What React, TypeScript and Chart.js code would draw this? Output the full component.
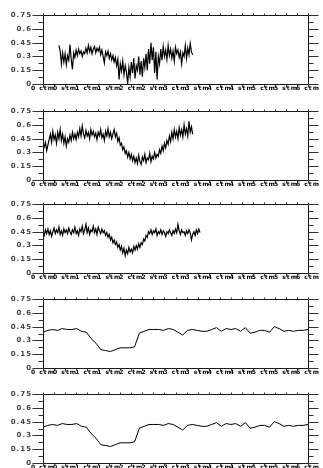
import React, { useEffect, useRef } from 'react';
import { Chart, registerables } from 'chart.js';

Chart.register(...registerables);

// ---- tick labels ----
const X_LABELS = ['0 ctm', '0 stm', '1 ctm', '1 stm', '2 ctm', '2 stm', '3 ctm', '3 stm', '4 ctm', '4 stm', '5 ctm', '5 stm', '6 ctm'];
const Y_TICKS = [0, 0.15, 0.3, 0.45, 0.6, 0.75];
const Y_LABELS = ['0', '0.15', '0.3', '0.45', '0.6', '0.75'];
const Y_MINOR = [0.075, 0.225, 0.375, 0.525, 0.675];

// ---- noisy series (x in steps of 1 on a 0..216 axis) ----
const NOISY_SPAN = 216;
const START_1 = 13;
const SERIES_1 = [
  0.42, 0.36, 0.22, 0.34, 0.24, 0.33, 0.21, 0.31, 0.26, 0.43, 0.27, 0.16, 0.34,
  0.29, 0.37, 0.31, 0.38, 0.33, 0.36, 0.30, 0.35, 0.33, 0.39, 0.34, 0.42, 0.35, 0.40, 0.33, 0.38, 0.41, 0.34, 0.39, 0.36,
  0.40, 0.32, 0.37, 0.30, 0.23, 0.35, 0.31, 0.36, 0.28, 0.33, 0.26, 0.31, 0.24, 0.29, 0.20,
  0.27, 0.05, 0.22, 0.14, 0.25, 0.10, 0.20, 0.13, 0.00, 0.18, 0.08, 0.24, 0.12, 0.28, 0.06, 0.20, 0.15, 0.30,
  0.10, 0.25, 0.08, 0.28, 0.18, 0.33, 0.15, 0.38, 0.22, 0.45, 0.26, 0.40, 0.12, 0.35, 0.05, 0.30, 0.22, 0.38, 0.26, 0.41,
  0.30, 0.37, 0.27, 0.42, 0.31, 0.38, 0.28, 0.36, 0.25, 0.40, 0.33, 0.37, 0.29, 0.35, 0.22, 0.34, 0.30, 0.42, 0.28, 0.39, 0.32, 0.44, 0.35, 0.32,
];

const START_2 = 0;
const SERIES_2 = [
  0.40, 0.36, 0.41, 0.32, 0.38, 0.44,
  0.50, 0.41, 0.53, 0.44, 0.49, 0.40, 0.52, 0.45, 0.55,
  0.43, 0.50, 0.40, 0.47, 0.37, 0.45, 0.41, 0.49, 0.43, 0.52, 0.45, 0.50, 0.44,
  0.52, 0.47, 0.56, 0.48, 0.59, 0.50, 0.46, 0.54, 0.48, 0.52, 0.45, 0.55, 0.49, 0.53, 0.47, 0.51, 0.44, 0.52, 0.48, 0.55, 0.46, 0.50, 0.43, 0.53, 0.48, 0.56, 0.47, 0.52, 0.45, 0.50,
  0.55, 0.47, 0.51, 0.42, 0.46, 0.38, 0.40, 0.33, 0.36, 0.29, 0.32,
  0.25, 0.30, 0.23, 0.28, 0.21,
  0.26, 0.19, 0.24, 0.18, 0.27, 0.20, 0.17, 0.25, 0.21, 0.28, 0.19, 0.24, 0.22, 0.29, 0.20, 0.26, 0.23, 0.30, 0.24, 0.28,
  0.26, 0.33, 0.29, 0.37, 0.32, 0.40, 0.35, 0.43,
  0.39, 0.48, 0.42, 0.52, 0.45, 0.55, 0.47, 0.53, 0.45, 0.57, 0.49,
  0.55, 0.47, 0.60, 0.50, 0.56, 0.48, 0.64, 0.52, 0.58, 0.50,
];

const START_3 = 0;
const SERIES_3 = [
  0.45, 0.41, 0.47, 0.43, 0.48, 0.42, 0.46, 0.40, 0.45, 0.49, 0.43, 0.47, 0.44, 0.50, 0.42, 0.46, 0.41, 0.48, 0.44, 0.47,
  0.43, 0.49, 0.45, 0.42, 0.47, 0.44, 0.50, 0.43, 0.46, 0.41, 0.48, 0.45, 0.51, 0.43, 0.47, 0.53, 0.44, 0.49, 0.42, 0.47,
  0.45, 0.51, 0.44, 0.48, 0.42, 0.50, 0.46, 0.43, 0.48, 0.44, 0.46, 0.41, 0.44,
  0.39, 0.42, 0.36, 0.39, 0.33, 0.36, 0.31,
  0.34, 0.28, 0.31, 0.25, 0.29, 0.22, 0.27, 0.19, 0.25, 0.21, 0.28, 0.23, 0.26, 0.22, 0.29, 0.25, 0.30, 0.26, 0.32, 0.28,
  0.33, 0.31, 0.37, 0.35, 0.41, 0.39, 0.45,
  0.43, 0.47, 0.42, 0.46, 0.44, 0.48, 0.41, 0.45, 0.43, 0.47, 0.42, 0.46, 0.44, 0.40, 0.45, 0.43, 0.47, 0.44, 0.41, 0.46,
  0.43, 0.48, 0.44, 0.53, 0.46, 0.42, 0.47, 0.44, 0.45, 0.41, 0.46, 0.43, 0.47, 0.44, 0.36, 0.42, 0.45, 0.41, 0.47, 0.43,
  0.48, 0.44,
];

// ---- smooth series (one value per step across the full axis) ----
const SERIES_4 = [
  0.39, 0.41, 0.42, 0.41, 0.43, 0.42, 0.42, 0.43, 0.40, 0.39, 0.32, 0.27, 0.20, 0.19, 0.18, 0.20,
  0.22, 0.22, 0.22, 0.23, 0.38, 0.40, 0.42, 0.42, 0.42, 0.41, 0.43, 0.42, 0.39, 0.36, 0.41, 0.42,
  0.41, 0.40, 0.40, 0.42, 0.44, 0.40, 0.43, 0.42, 0.43, 0.40, 0.44, 0.38, 0.39, 0.41, 0.41, 0.39,
  0.45, 0.43, 0.40, 0.41, 0.40, 0.41, 0.41, 0.42,
];
const SERIES_5 = [
  0.39, 0.41, 0.42, 0.41, 0.43, 0.42, 0.42, 0.43, 0.40, 0.39, 0.32, 0.27, 0.20, 0.19, 0.18, 0.20,
  0.22, 0.22, 0.22, 0.23, 0.38, 0.40, 0.42, 0.42, 0.42, 0.41, 0.43, 0.42, 0.39, 0.36, 0.41, 0.42,
  0.41, 0.40, 0.40, 0.42, 0.44, 0.40, 0.43, 0.42, 0.43, 0.40, 0.44, 0.38, 0.39, 0.41, 0.41, 0.39,
  0.45, 0.43, 0.40, 0.41, 0.40, 0.41, 0.41, 0.42,
];

const PLOT_LEFT = 43;
const PLOT_RIGHT_PAD = 15;
const PAD_TOP = 8;
const X_AXIS_H = 22;
const CANVAS_W = 323;
const CANVAS_H = 106;

const framePlugin = {
  id: 'frame',
  beforeDraw(chart: any) {
    (chart.ctx as any).letterSpacing = '1px';
  },
  afterDraw(chart: any) {
    const ctx = chart.ctx;
    (ctx as any).letterSpacing = '0px';
    const { left, right, top, bottom } = chart.chartArea;
    const xs = chart.scales.x;
    const ys = chart.scales.y;
    const L = Math.round(left) + 0.5;
    const R = Math.round(right) + 0.5;
    const T = Math.round(top) + 0.5;
    const B = Math.round(bottom) + 0.5;
    ctx.save();
    ctx.strokeStyle = '#1a1a1a';
    ctx.lineWidth = 1;
    ctx.beginPath();
    ctx.rect(L, T, R - L, B - T);
    ctx.stroke();

    ctx.strokeStyle = '#333';
    ctx.beginPath();
    const yTick = (v: number, lenL: number, lenR: number) => {
      const py = Math.round(ys.getPixelForValue(v)) + 0.5;
      ctx.moveTo(L - lenL, py);
      ctx.lineTo(L, py);
      ctx.moveTo(R, py);
      ctx.lineTo(R + lenR, py);
    };
    Y_TICKS.forEach((v) => yTick(v, 11, 10));
    Y_MINOR.forEach((v) => yTick(v, 5, 5));

    const majors = xs.ticks.map((t: any) => t.value);
    for (let i = 0; i < majors.length; i++) {
      const px = Math.round(xs.getPixelForValue(majors[i])) + 0.5;
      ctx.moveTo(px, T);
      ctx.lineTo(px, T - 2);
      ctx.moveTo(px, B);
      ctx.lineTo(px, B + 3);
      if (i < majors.length - 1) {
        const mx = Math.round(xs.getPixelForValue((majors[i] + majors[i + 1]) / 2)) + 0.5;
        ctx.moveTo(mx, T);
        ctx.lineTo(mx, T - 2);
        ctx.moveTo(mx, B);
        ctx.lineTo(mx, B + 2);
      }
    }
    ctx.stroke();
    ctx.restore();
  },
};

function Panel({ values, start, span, top, lw }: { values: number[]; start: number; span: number; top: number; lw: number }) {
  const ref = useRef<HTMLCanvasElement | null>(null);
  useEffect(() => {
    if (!ref.current) return;
    const chart = new Chart(ref.current, {
      type: 'line',
      data: {
        datasets: [
          {
            data: values.map((v, i) => ({ x: start + i, y: v })),
            borderColor: '#000',
            borderWidth: lw,
            pointRadius: 0,
            tension: 0,
            fill: false,
          },
        ],
      },
      options: {
        responsive: false,
        animation: false,
        events: [],
        layout: { padding: { top: PAD_TOP, right: PLOT_RIGHT_PAD, left: 0, bottom: 0 } },
        plugins: { legend: { display: false }, tooltip: { enabled: false } },
        scales: {
          x: {
            type: 'linear',
            min: 0,
            max: span,
            afterBuildTicks: (s: any) => {
              s.ticks = X_LABELS.map((_, i) => ({ value: (i * span) / (X_LABELS.length - 1) }));
            },
            afterFit: (s: any) => {
              s.height = X_AXIS_H;
            },
            grid: { display: false, drawTicks: false },
            border: { display: false },
            ticks: {
              autoSkip: false,
              maxRotation: 0,
              minRotation: 0,
              padding: 1,
              color: '#000',
              font: { size: 6, family: 'DejaVu Sans', weight: 'bold' },
              callback: (_v: any, i: number) => X_LABELS[i],
            },
          },
          y: {
            min: 0,
            max: 0.75,
            afterBuildTicks: (s: any) => {
              s.ticks = Y_TICKS.map((v) => ({ value: v }));
            },
            afterFit: (s: any) => {
              s.width = PLOT_LEFT;
            },
            grid: { display: false, drawTicks: false },
            border: { display: false },
            ticks: {
              padding: 11,
              color: '#444',
              font: { size: 7, family: 'DejaVu Sans', weight: 'bold' },
              callback: (_v: any, i: number) => Y_LABELS[i],
            },
          },
        },
      } as any,
      plugins: [framePlugin],
    });
    return () => chart.destroy();
  }, [values, start, span, lw]);
  return (
    <canvas
      ref={ref}
      width={CANVAS_W}
      height={CANVAS_H}
      style={{ position: 'absolute', left: 0, top, width: CANVAS_W, height: CANVAS_H }}
    />
  );
}

export default function App() {
  return (
    <div
      style={{
        position: 'fixed',
        left: 0,
        top: 0,
        width: 323,
        height: 468,
        overflow: 'hidden',
        background: '#fff',
      }}
    >
      <Panel values={SERIES_1} start={START_1} span={NOISY_SPAN} top={0} lw={1.2} />
      <Panel values={SERIES_2} start={START_2} span={NOISY_SPAN} top={96} lw={1.2} />
      <Panel values={SERIES_3} start={START_3} span={NOISY_SPAN} top={189} lw={1.2} />
      <Panel values={SERIES_4} start={0} span={SERIES_4.length - 1} top={284} lw={1} />
      <Panel values={SERIES_5} start={0} span={SERIES_5.length - 1} top={379} lw={1} />
    </div>
  );
}
